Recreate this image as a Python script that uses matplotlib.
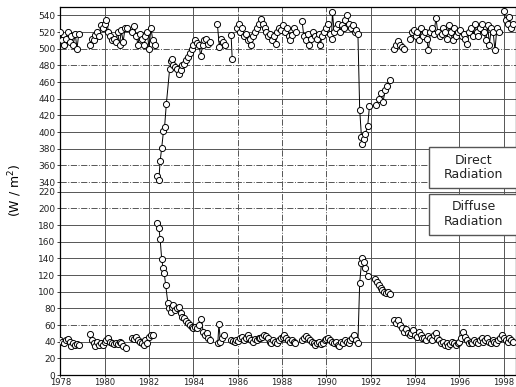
import numpy as np
import matplotlib
matplotlib.use("Agg")
import matplotlib.pyplot as plt
from matplotlib.patches import Rectangle

nan = np.nan

# direct radiation (W/m^2), nan = no data
direct_years = [
    1978.00, 1978.08, 1978.17, 1978.25, 1978.33, 1978.42, 1978.50, 1978.58, 1978.67, 1978.75, 1978.83, 1979.00,
    1979.33, 1979.42, 1979.50, 1979.58, 1979.67, 1979.75, 1979.83, 1979.92, 1980.00, 1980.08, 1980.17, 1980.25,
    1980.33, 1980.42, 1980.50, 1980.58, 1980.67, 1980.75, 1980.83, 1980.92, 1981.00, 1981.12,
    1981.25, 1981.33, 1981.42, 1981.50, 1981.58, 1981.67, 1981.75, 1981.83, 1981.92, 1982.00, 1982.08, 1982.17, 1982.25,
    1982.30,
    1982.36, 1982.44, 1982.50, 1982.57, 1982.65, 1982.70, 1982.78, 1982.93, 1983.00, 1983.05, 1983.10, 1983.17,
    1983.25, 1983.33, 1983.42, 1983.50, 1983.58, 1983.67, 1983.75, 1983.83, 1983.92, 1984.00, 1984.08, 1984.17,
    1984.25, 1984.33, 1984.42, 1984.50, 1984.58, 1984.67, 1984.75, 1984.90,
    1985.08, 1985.17, 1985.25, 1985.33, 1985.42, 1985.55, 1985.70, 1985.75, 1985.85,
    1985.96, 1986.04, 1986.12, 1986.21, 1986.29, 1986.37, 1986.46, 1986.54, 1986.62, 1986.71, 1986.79, 1986.87,
    1986.96, 1987.04, 1987.12, 1987.21, 1987.29, 1987.37, 1987.46, 1987.54, 1987.62, 1987.71, 1987.79, 1987.87,
    1987.96, 1988.04, 1988.12, 1988.21, 1988.29, 1988.37, 1988.46, 1988.54, 1988.62, 1988.75,
    1988.90, 1988.98, 1989.06, 1989.15, 1989.23, 1989.31, 1989.40, 1989.48, 1989.56, 1989.65, 1989.73, 1989.81,
    1989.90, 1989.98, 1990.06, 1990.15, 1990.23, 1990.27, 1990.35, 1990.44, 1990.52, 1990.60, 1990.69, 1990.77,
    1990.85, 1990.94, 1991.02, 1991.10, 1991.19, 1991.27, 1991.35, 1991.42, 1991.50, 1991.58, 1991.62, 1991.68,
    1991.75, 1991.86, 1991.94, 1992.10,
    1992.25, 1992.35, 1992.45, 1992.55, 1992.65, 1992.75, 1992.85, 1992.95,
    1993.07, 1993.15, 1993.23, 1993.32, 1993.40, 1993.50, 1993.65,
    1993.77, 1993.85, 1993.94, 1994.02, 1994.10, 1994.19, 1994.27, 1994.35, 1994.44, 1994.52, 1994.60, 1994.69,
    1994.77, 1994.85, 1994.94, 1995.02, 1995.10, 1995.19, 1995.27, 1995.35, 1995.44, 1995.52, 1995.60, 1995.69,
    1995.77, 1995.85, 1995.94, 1996.02, 1996.10, 1996.19, 1996.27, 1996.33, 1996.44, 1996.52, 1996.60, 1996.69,
    1996.77, 1996.85, 1996.94, 1997.02, 1997.10, 1997.19, 1997.27, 1997.35, 1997.44, 1997.52, 1997.60, 1997.69,
    1997.77, 1997.90,
    1998.00, 1998.08, 1998.17, 1998.25, 1998.33, 1998.42,
]
direct_values = [
    520, 510, 505, 512, 520, 508, 515, 505, 518, 500, 518, nan,
    505, 512, 510, 516, 520, 515, 528, 525, 530, 535, 520, 515,
    510, 512, 508, 520, 505, 522, 508, 525, 525, nan,
    520, 527, 515, 505, 518, 512, 505, 515, 520, 500, 525, 510, 505,
    nan,
    347, 342, 365, 381, 401, 406, 434, 476, 485, 488, 480, 478,
    476, 470, 474, 480, 482, 486, 490, 495, 500, 505, 510, 507,
    505, 491, 505, 510, 512, 506, 508, nan,
    530, 502, 512, 508, 505, nan, 516, 488, nan,
    525, 530, 520, 525, 515, 518, 510, 512, 505, 515, 520, 525,
    530, 536, 530, 525, 520, 515, 518, 510, 515, 506, 520, 525,
    522, 528, 520, 525, 515, 510, 516, 525, 520, nan,
    533, 515, 510, 518, 505, 512, 520, 515, 512, 518, 505, 515,
    520, 525, 530, 518, 512, 544, 520, 525, 530, 520, 528, 525,
    535, 540, 530, 525, 528, 520, 522, 518, 427, 394, 386, 392,
    398, 407, 431, nan,
    432, 440, 447, 436, 450, 455, 462, nan,
    500, 505, 509, 505, 502, 500, nan,
    512, 520, 522, 515, 520, 510, 525, 515, 520, 512, 498, 520,
    525, 518, 537, 520, 515, 518, 525, 520, 512, 528, 520, 510,
    525, 515, 520, 522, 515, 518, 512, 506, 520, 525, 515, 530,
    520, 515, 525, 530, 520, 510, 528, 505, 525, 520, 498, 525,
    520, nan,
    545, 535, 530, 538, 525, 530,
]

# diffuse radiation (W/m^2)
diffuse_years = [
    1978.00, 1978.08, 1978.17, 1978.25, 1978.33, 1978.42, 1978.50, 1978.58, 1978.67, 1978.75, 1978.83, 1979.00,
    1979.33, 1979.42, 1979.50, 1979.58, 1979.67, 1979.75, 1979.83, 1979.92, 1980.00, 1980.08, 1980.17, 1980.25,
    1980.33, 1980.42, 1980.50, 1980.58, 1980.67, 1980.75, 1980.83, 1980.98, 1981.12,
    1981.25, 1981.33, 1981.42, 1981.50, 1981.58, 1981.67, 1981.75, 1981.83, 1981.92, 1982.00, 1982.08, 1982.17,
    1982.28,
    1982.36, 1982.44, 1982.50, 1982.57, 1982.63, 1982.68, 1982.75, 1982.85, 1982.92, 1983.00, 1983.05, 1983.10,
    1983.17, 1983.25, 1983.33, 1983.42, 1983.50, 1983.58, 1983.67, 1983.75, 1983.83, 1983.92, 1984.00, 1984.08,
    1984.17, 1984.25, 1984.36, 1984.44, 1984.52, 1984.60, 1984.68, 1984.75, 1984.90,
    1985.10, 1985.15, 1985.22, 1985.30, 1985.38, 1985.55,
    1985.70, 1985.78, 1985.86, 1985.94, 1986.02, 1986.10, 1986.19, 1986.27, 1986.35, 1986.44, 1986.52, 1986.60,
    1986.69, 1986.77, 1986.85, 1986.94, 1987.02, 1987.10, 1987.19, 1987.27, 1987.35, 1987.44, 1987.52, 1987.60,
    1987.69, 1987.77, 1987.85, 1987.94, 1988.02, 1988.10, 1988.19, 1988.27, 1988.35, 1988.44, 1988.52, 1988.60,
    1988.75,
    1988.92, 1989.00, 1989.08, 1989.17, 1989.25, 1989.33, 1989.42, 1989.50, 1989.58, 1989.67, 1989.75, 1989.83,
    1989.92, 1990.00, 1990.08, 1990.17, 1990.25, 1990.33, 1990.42, 1990.50, 1990.58, 1990.67, 1990.75, 1990.83,
    1990.92, 1991.00, 1991.08, 1991.17, 1991.25, 1991.33, 1991.42, 1991.50, 1991.58, 1991.62, 1991.68, 1991.75,
    1991.86, 1992.05,
    1992.20, 1992.28, 1992.36, 1992.44, 1992.52, 1992.60, 1992.68, 1992.76, 1992.85, 1992.95,
    1993.07, 1993.15, 1993.23, 1993.32, 1993.40, 1993.50, 1993.58, 1993.67, 1993.75, 1993.83, 1993.92, 1994.00,
    1994.08, 1994.17, 1994.25, 1994.33, 1994.42, 1994.50, 1994.58, 1994.67, 1994.75, 1994.83, 1994.92, 1995.00,
    1995.08, 1995.17, 1995.25, 1995.33, 1995.42, 1995.50, 1995.58, 1995.67, 1995.75, 1995.83, 1995.92, 1996.00,
    1996.08, 1996.17, 1996.25, 1996.33, 1996.42, 1996.50, 1996.58, 1996.67, 1996.75, 1996.83, 1996.92, 1997.00,
    1997.08, 1997.17, 1997.25, 1997.33, 1997.42, 1997.50, 1997.58, 1997.67, 1997.75, 1997.83, 1997.92, 1998.00,
    1998.08, 1998.17, 1998.25, 1998.33, 1998.42,
]
diffuse_values = [
    42, 40, 38, 42, 43, 40, 35, 38, 36, 37, 36, nan,
    49, 42, 38, 35, 40, 36, 38, 36, 40, 42, 44, 40,
    38, 37, 38, 37, 40, 38, 35, 33, nan,
    45, 43, 46, 42, 40, 38, 36, 42, 38, 46, 48, 48,
    nan,
    182, 177, 163, 139, 129, 123, 108, 86, 80, 76, 82, 84,
    78, 80, 82, 75, 70, 68, 65, 62, 60, 58, 57, 58,
    56, 60, 67, 52, 48, 50, 45, 42, nan,
    38, 61, 40, 45, 48, nan,
    42, 41, 40, 42, 41, 44, 46, 42, 45, 48, 44, 42,
    40, 43, 42, 44, 45, 46, 48, 47, 44, 40, 39, 42,
    40, 38, 42, 44, 46, 48, 45, 42, 40, 42, 40, 38,
    nan,
    42, 45, 47, 44, 42, 40, 38, 36, 38, 40, 37, 39,
    42, 43, 44, 42, 40, 38, 40, 36, 35, 40, 38, 42,
    40, 38, 42, 45, 48, 42, 38, 111, 134, 141, 136, 129,
    119, nan,
    115, 112, 108, 105, 102, 100, 98, 100, 97, nan,
    66, 63, 66, 60, 56, 52, 55, 50, 48, 50, 54, 48,
    46, 52, 48, 45, 44, 42, 47, 44, 42, 48, 50, 45,
    42, 38, 40, 36, 38, 35, 37, 40, 38, 36, 38, 40,
    44, 52, 46, 42, 38, 40, 38, 42, 40, 38, 42, 44,
    40, 42, 44, 40, 38, 42, 40, 38, 42, 44, 48, 45,
    42, 40, 44, 42, 40,
]

upper_ticks = list(range(340, 541, 20))
lower_ticks = list(range(0, 221, 20))
year_ticks = list(range(1978, 1999, 2))

# grid line styles
upper_grid = {340: '-.', 360: '-.', 380: '-', 400: '-', 420: '-', 440: '-', 460: '-',
              480: '-.', 500: '-.', 520: '-', 540: '-'}
lower_grid = {20: '-', 40: '-', 60: '-.', 80: '-', 100: '-', 120: '-', 140: '-',
              160: '-', 180: '-', 200: '-.', 220: '-'}
year_grid = {1980: '-', 1982: '-', 1984: '-', 1986: '-.', 1988: '-.', 1990: '-.',
             1992: '-', 1994: '-', 1996: '-', 1998: '-'}

fig = plt.figure(figsize=(5.16, 3.87), dpi=100)
left, right = 0.117, 1.0
split = 0.517
ax_up = fig.add_axes([left, split, right - left, 0.981 - split])
ax_lo = fig.add_axes([left, 0.031, right - left, split - 0.031])

mk = dict(marker='o', markersize=4.4, markerfacecolor='white', markeredgecolor='black',
          markeredgewidth=0.7, color='black', linewidth=0.7)
ax_up.plot(direct_years, direct_values, **mk, zorder=3)
ax_lo.plot(diffuse_years, diffuse_values, **mk, zorder=3)

for ax in (ax_up, ax_lo):
    ax.set_xlim(1978, 1998.55)
    ax.set_xticks(year_ticks)
    ax.tick_params(labelsize=6.5, length=2, width=0.6, pad=1.5, colors='#222222')
    for yr, ls in year_grid.items():
        ax.axvline(yr, color='#555555', linewidth=0.7, linestyle=ls, zorder=1)
    for s in ax.spines.values():
        s.set_linewidth(0.9)

ax_up.set_ylim(334.1, 549.6)
ax_up.set_yticks(upper_ticks)
ax_up.tick_params(labelbottom=False, bottom=False)
ax_up.spines['bottom'].set_visible(False)
for v, ls in upper_grid.items():
    ax_up.axhline(v, color='#555555', linewidth=0.7, linestyle=ls, zorder=1)

ax_lo.set_ylim(0, 225.7)
ax_lo.set_yticks(lower_ticks)
ax_lo.spines['top'].set_visible(False)
ax_lo.tick_params(axis='x', labelsize=6, length=1.5, pad=0.5)
for v, ls in lower_grid.items():
    ax_lo.axhline(v, color='#555555', linewidth=0.7, linestyle=ls, zorder=1)

fig.text(0.03, 0.509, '(W / m$^2$)', rotation=90, ha='center', va='center', fontsize=9)

# label boxes on the right
for y0, label in [(0.514, 'Direct\nRadiation'), (0.393, 'Diffuse\nRadiation')]:
    fig.add_artist(Rectangle((0.831, y0), 0.2, 0.107, transform=fig.transFigure,
                             facecolor='white', edgecolor='#555555', linewidth=1.0, zorder=5))
    fig.text(0.918, y0 + 0.0535, label, ha='center', va='center', fontsize=9,
             linespacing=1.15, color='#222222', zorder=6)

fig.savefig('out.png', dpi=100)
